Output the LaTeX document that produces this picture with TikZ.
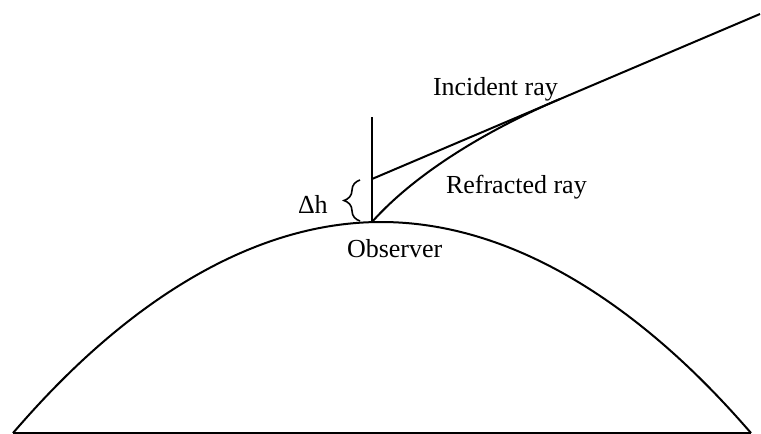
\documentclass[tikz,border=0pt]{standalone}
\usepackage{fontspec}
\setmainfont{Liberation Serif}
\usetikzlibrary{decorations.pathreplacing}
\begin{document}
\begin{tikzpicture}[x=0.5pt,y=-0.5pt,line width=1pt,
    etiqueta/.style={font=\fontsize{13}{15}\selectfont,inner sep=0pt,anchor=base west}]
    \useasboundingbox (0,0) rectangle (761,434);
    % Earth surface drawn as a parabola over its chord.
    \coordinate (izq) at (13,433);
    \coordinate (der) at (751,433);
    \coordinate (obs) at (372,222);
    \coordinate (cima) at (372,117);
    \coordinate (corte) at (372,179);
    \coordinate (lejos) at (760,14);
    \coordinate (toque) at (560,99);
    \draw (izq) -- (der);
    \draw (izq) parabola bend (381,222) (der);
    \draw (obs) -- (cima);
    \draw (corte) -- (lejos);
    \draw (obs) .. controls (412,177) and (480,133) .. (toque);
    \draw[decorate,decoration={brace,amplitude=8pt},line width=0.8pt] (360,221) -- (360,180);
    \node[etiqueta] (incidente) at (432,95) {Incident ray};
    \node[etiqueta] (refractado) at (445,193) {Refracted ray};
    \node[etiqueta] (observador) at (346,257) {Observer};
    \node[etiqueta] (dh) at (297,213) {Δh};
  \end{tikzpicture}
\end{document}
